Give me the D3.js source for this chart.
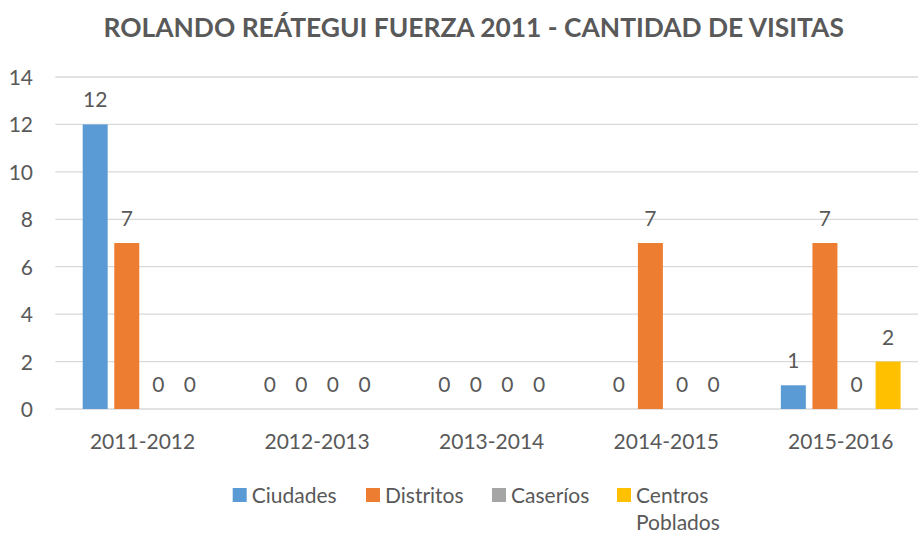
<!DOCTYPE html>
<html><head><meta charset="utf-8">
<script src="https://cdn.jsdelivr.net/npm/d3@7"></script>
<style>body{margin:0;background:#fff}svg{display:block}text{font-family:Lato,"Open Sans",sans-serif;fill:#595959}</style>
</head><body><svg id="c" width="918" height="534"></svg>
<script>
const title = "ROLANDO REÁTEGUI FUERZA 2011 - CANTIDAD DE VISITAS";
const categories = ["2011-2012","2012-2013","2013-2014","2014-2015","2015-2016"];
const seriesNames = ["Ciudades","Distritos","Caseríos","Centros Poblados"];
const ciudades = [12,0,0,0,1];
const distritos = [7,0,0,7,7];
const caserios = [0,0,0,0,0];
const centrosPoblados = [0,0,0,0,2];
const yTicks = [0,2,4,6,8,10,12,14];
const colors = ["#5B9BD5","#ED7D31","#A5A5A5","#FFC000"];
const seriesValues = [ciudades, distritos, caserios, centrosPoblados];

const svg = d3.select("#c");
const plotL = 55.3, plotR = 928, plotT = 77, plotB = 409;
const fs = 21;

const x0 = d3.scaleBand().domain(categories).range([plotL, plotR]).padding(0);
const x1 = d3.scaleBand().domain(seriesNames).range([0, x0.bandwidth()]).paddingInner(0.209).paddingOuter(0.867);
const y = d3.scaleLinear().domain([0,14]).range([plotB, plotT]);

// gridlines
svg.append("g").selectAll("line").data(yTicks).join("line")
  .attr("x1", plotL).attr("x2", plotR)
  .attr("y1", d => y(d)).attr("y2", d => y(d))
  .attr("stroke", "#D9D9D9").attr("stroke-width", 1.3);

// y axis labels
const yAxis = d3.axisLeft(y).tickValues(yTicks).tickSize(0).tickPadding(0);
const ya = svg.append("g").attr("transform", `translate(33,0)`).call(yAxis);
ya.select(".domain").remove();
ya.selectAll("text").attr("font-size", fs).style("font-family", "Lato").attr("fill", "#595959").attr("dy", "0.36em");

// x axis labels
const xAxis = d3.axisBottom(x0).tickSize(0).tickPadding(0);
const xa = svg.append("g").attr("transform", `translate(0,434)`).call(xAxis);
xa.select(".domain").remove();
xa.selectAll("text").attr("font-size", fs).style("font-family", "Lato").attr("fill", "#595959").attr("dy", "0.72em");

// bars
const data = [];
categories.forEach((c, i) => seriesNames.forEach((s, j) => data.push({c, s, j, v: seriesValues[j][i]})));
const g = svg.append("g");
g.selectAll("rect").data(data).join("rect")
  .attr("x", d => x0(d.c) + x1(d.s))
  .attr("width", x1.bandwidth())
  .attr("y", d => y(d.v))
  .attr("height", d => y(0) - y(d.v))
  .attr("fill", d => colors[d.j]);

g.selectAll("text").data(data).join("text")
  .attr("x", d => x0(d.c) + x1(d.s) + x1.bandwidth()/2)
  .attr("y", d => y(d.v) - 17)
  .attr("text-anchor", "middle")
  .attr("font-size", fs)
  .text(d => d.v);

// title
const t = svg.append("text").attr("x", 473.7).attr("y", 36.7).attr("text-anchor", "middle")
  .attr("font-weight", "bold").attr("font-size", 26).text(title);
const w = t.node().getComputedTextLength();
t.attr("font-size", 26 * 741 / w);

// legend
const legX = [232.7, 366, 492, 617];
const lg = svg.append("g");
seriesNames.forEach((s, j) => {
  lg.append("rect").attr("x", legX[j]).attr("y", 488).attr("width", 14).attr("height", 14).attr("fill", colors[j]);
  const parts = s === "Centros Poblados" ? ["Centros", "Poblados"] : [s];
  parts.forEach((p, k) => lg.append("text").attr("x", legX[j] + 19).attr("y", 503 + k * 27)
    .attr("font-size", fs).text(p));
});
</script></body></html>
